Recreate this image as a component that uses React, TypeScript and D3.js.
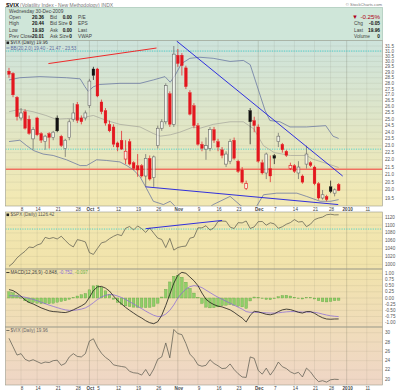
import React from "react";
import * as d3 from "d3";

// ---------- DATA ----------
const tradingDays = [
  "2009-09-02","2009-09-03","2009-09-04","2009-09-08","2009-09-09","2009-09-10","2009-09-11","2009-09-14","2009-09-15","2009-09-16",
  "2009-09-17","2009-09-18","2009-09-21","2009-09-22","2009-09-23","2009-09-24","2009-09-25","2009-09-28","2009-09-29","2009-09-30",
  "2009-10-01","2009-10-02","2009-10-05","2009-10-06","2009-10-07","2009-10-08","2009-10-09","2009-10-12","2009-10-13","2009-10-14",
  "2009-10-15","2009-10-16","2009-10-19","2009-10-20","2009-10-21","2009-10-22","2009-10-23","2009-10-26","2009-10-27","2009-10-28",
  "2009-10-29","2009-10-30","2009-11-02","2009-11-03","2009-11-04","2009-11-05","2009-11-06","2009-11-09","2009-11-10","2009-11-11",
  "2009-11-12","2009-11-13","2009-11-16","2009-11-17","2009-11-18","2009-11-19","2009-11-20","2009-11-23","2009-11-24","2009-11-25",
  "2009-11-27","2009-11-30","2009-12-01","2009-12-02","2009-12-03","2009-12-04","2009-12-07","2009-12-08","2009-12-09","2009-12-10",
  "2009-12-11","2009-12-14","2009-12-15","2009-12-16","2009-12-17","2009-12-18","2009-12-21","2009-12-22","2009-12-23","2009-12-24",
  "2009-12-28","2009-12-29","2009-12-30",
];
const futureDays = [
  "2009-12-31","2010-01-04","2010-01-05","2010-01-06","2010-01-07","2010-01-08","2010-01-11","2010-01-12","2010-01-13","2010-01-14","2010-01-15",
];

const vixOpen = [
  29.1,28.9,26.8,25.1,25.6,25.0,23.5,25.1,23.9,23.3,
  23.9,23.6,25.1,23.7,22.8,23.6,25.0,26.2,25.1,25.1,
  26.1,29.3,29.3,26.4,25.7,24.6,24.4,23.2,23.4,22.05,
  23.3,21.8,21.6,21.6,20.9,22.1,20.8,23.0,24.3,24.8,
  27.1,24.6,30.6,30.6,29.4,27.2,26.1,24.5,23.1,22.75,
  22.8,24.2,23.3,22.7,21.7,21.9,23.4,21.9,21.3,20.1,
  25.7,24.9,24.4,21.8,21.1,21.4,22.3,23.3,23.1,22.6,
  21.4,21.6,21.1,20.9,21.7,21.8,21.5,20.4,19.5,19.6,
  20.2,19.8,20.36,
];
const vixHigh = [
  29.4,29.0,26.9,25.9,25.8,25.3,24.4,25.2,24.0,23.8,
  24.0,24.1,25.3,23.8,23.5,25.0,26.3,26.4,25.3,25.7,
  28.4,29.5,29.4,26.6,25.9,24.9,24.6,23.3,24.1,23.4,
  23.5,21.9,22.4,21.7,22.4,22.3,22.3,24.5,25.0,28.0,
  27.3,31.5,31.2,30.8,29.6,27.4,26.3,24.7,23.3,23.6,
  24.4,24.4,23.5,22.9,22.6,23.5,23.6,22.0,21.5,20.6,
  25.9,25.2,24.6,22.0,22.5,22.3,22.4,23.95,23.2,22.7,
  21.8,21.7,21.9,21.0,23.0,21.9,21.6,20.5,20.0,19.7,
  20.6,20.1,20.44,
];
const vixLow = [
  28.5,26.8,24.9,24.9,24.2,23.8,22.7,23.7,23.2,22.7,
  22.8,23.4,24.0,22.9,22.2,23.4,24.8,24.7,24.6,24.9,
  25.9,28.3,26.8,25.4,24.5,24.0,22.9,22.6,22.7,21.7,
  21.6,21.3,20.85,20.8,20.2,20.6,20.2,22.8,24.1,24.6,
  24.4,24.4,29.5,28.7,27.5,25.3,24.3,23.0,22.6,22.0,
  22.6,23.2,22.6,22.1,21.5,21.7,22.0,21.1,20.4,20.0,
  23.1,24.0,21.8,21.0,20.7,20.5,21.7,22.9,22.5,22.2,
  21.3,21.1,20.7,20.4,21.4,21.5,20.3,19.4,19.4,19.3,
  19.8,19.6,19.93,
];
const vixClose = [
  28.8,27.0,25.2,25.5,24.3,23.9,24.2,23.8,23.4,23.7,
  23.6,24.0,24.1,23.0,23.4,24.8,25.5,24.9,24.8,25.5,
  28.2,28.7,26.9,25.6,24.7,24.1,23.1,22.9,22.75,22.6,
  21.7,21.4,21.3,20.9,22.1,20.7,22.2,24.3,24.8,27.8,
  24.6,30.7,29.8,29.6,27.7,25.4,24.5,23.1,22.8,23.0,
  24.2,23.4,22.9,22.3,22.4,23.3,22.1,21.2,20.5,20.4,
  24.8,24.5,21.9,21.1,22.4,20.9,22.1,23.7,22.7,22.3,
  21.6,21.2,21.5,20.5,22.4,21.6,20.4,19.5,19.7,19.4,
  19.9,20.01,19.96,
];
const priorClose = 29.15;

const bbUpper: [number, number][] = [
  [0,28.3],[2.7,28.5],[7.7,28.6],[14.3,28.5],[17.7,28.4],[18.9,27.7],[19.7,27.3],[21,27.7],[22.6,27.9],
  [27.6,28.0],[32.6,28.0],[35.9,28.3],[38.8,28.6],[40.1,28.1],[41.3,28.7],[42.9,29.8],[45,30.3],[47.5,30.4],
  [50.8,30.3],[55,30.0],[58.3,30.1],[60,29.7],[63.7,25.7],[64.9,24.9],[67.4,24.8],[69.9,24.4],[74,24.4],
  [78.8,24.5],[80.6,23.7],[82,23.53],
];
const bbMiddle: [number, number][] = [
  [0,25.6],[2.7,25.8],[6,25.6],[9.2,25.3],[11.7,25.0],[14.3,25.05],[17.7,25.1],[21,25.3],[24.3,24.9],
  [27.6,24.6],[32.6,24.4],[35.9,23.9],[37.6,23.7],[40.1,23.8],[42.5,24.0],[45.9,24.4],[47.5,24.3],
  [50.8,24.6],[55,24.8],[58.3,24.8],[60.9,24.25],[63.3,23.0],[66,22.5],[70,22.3],[74,22.3],[75.5,22.05],
  [79.5,21.7],[82,21.47],
];
const bbLower: [number, number][] = [
  [0,23.3],[2.7,23.4],[4.4,23.0],[6.1,22.65],[8.5,22.4],[11,22.3],[14.3,22.0],[17.7,21.6],[19.3,21.6],
  [21.8,22.0],[24.3,21.95],[27.6,21.85],[29.3,21.6],[31,21.3],[32.6,20.85],[34.2,20.1],[35.9,19.3],
  [38.4,19.1],[40.1,19.3],[41.7,18.9],[44,18.5],[48,18.6],[50.8,19.1],[55,19.6],[57.5,19.07],[60,18.6],
  [61.6,19.0],[63.3,19.7],[66.6,19.8],[71.6,19.8],[74,19.6],[77.4,19.3],[80,19.3],[82,19.4],
];

const redTrend: [number, number][] = [[9.8, 29.8], [36.7, 31.3]];
const blueTrendHigh: [number, number][] = [[41.7, 32.0], [83, 20.9]];
const blueTrendLow: [number, number][] = [[34, 20.2], [81.9, 19.1]];
const vixRedLevel = 21.35;
const vixCyanLevels = [31.0, 22.75];

const spxClose = [
  994.75,1003.24,1016.40,1025.39,1033.37,1044.14,1042.73,1049.34,1052.63,1068.76,
  1065.49,1068.30,1064.66,1071.66,1060.87,1050.78,1044.38,1062.98,1060.61,1057.08,
  1029.85,1025.21,1040.46,1054.72,1057.58,1065.48,1071.49,1076.19,1073.19,1092.02,
  1096.56,1087.68,1097.91,1091.06,1081.40,1092.91,1079.60,1066.95,1063.41,1042.63,
  1066.11,1036.19,1042.88,1045.41,1046.50,1066.63,1069.30,1093.08,1093.01,1098.51,
  1087.24,1093.48,1109.30,1110.32,1109.80,1094.90,1091.38,1106.24,1105.65,1110.63,
  1091.49,1095.63,1108.86,1109.24,1099.92,1105.98,1103.25,1091.94,1095.95,1102.35,
  1106.41,1114.11,1107.93,1109.18,1096.08,1102.47,1114.05,1118.02,1120.59,1126.48,
  1127.78,1126.19,1126.42,
];
const spxTrend: [number, number][] = [[34, 1091], [53, 1112]];
const spxCyanLevel = 1090;

const macdLine = [
  0.34,0.30,0.20,0.07,-0.08,-0.18,-0.24,-0.32,-0.40,-0.46,
  -0.52,-0.55,-0.56,-0.58,-0.59,-0.55,-0.48,-0.40,-0.32,-0.22,
  0.02,0.30,0.45,0.47,0.40,0.28,0.08,-0.10,-0.24,-0.38,
  -0.50,-0.61,-0.72,-0.81,-0.92,-1.00,-1.04,-0.96,-0.70,-0.30,
  0.15,0.60,0.92,1.04,1.00,0.85,0.70,0.50,0.20,-0.05,
  -0.18,-0.27,-0.33,-0.36,-0.42,-0.48,-0.58,-0.70,-0.81,-0.97,
  -0.70,-0.54,-0.56,-0.61,-0.66,-0.68,-0.64,-0.55,-0.48,-0.45,
  -0.47,-0.52,-0.58,-0.61,-0.55,-0.55,-0.62,-0.72,-0.80,-0.85,
  -0.86,-0.85,-0.848,
];
const macdSignal = [
  0.09,0.09,0.08,0.06,0.03,-0.01,-0.06,-0.11,-0.17,-0.23,
  -0.29,-0.34,-0.39,-0.44,-0.48,-0.50,-0.50,-0.48,-0.45,-0.40,
  -0.31,-0.19,-0.06,0.04,0.11,0.14,0.13,0.08,0.02,-0.06,
  -0.15,-0.24,-0.34,-0.43,-0.53,-0.62,-0.70,-0.75,-0.74,-0.65,
  -0.50,-0.28,0.00,0.20,0.36,0.46,0.50,0.48,0.42,0.32,
  0.22,0.12,0.03,-0.05,-0.13,-0.21,-0.29,-0.37,-0.45,-0.55,
  -0.58,-0.58,-0.58,-0.59,-0.60,-0.61,-0.61,-0.60,-0.58,-0.56,
  -0.55,-0.55,-0.56,-0.57,-0.57,-0.57,-0.58,-0.61,-0.65,-0.69,
  -0.72,-0.74,-0.752,
];

const tickDates = [
  "2009-09-08","2009-09-14","2009-09-21","2009-09-28","2009-10-01","2009-10-05","2009-10-12","2009-10-19","2009-10-26",
  "2009-11-02","2009-11-09","2009-11-16","2009-11-23","2009-12-01","2009-12-07","2009-12-14","2009-12-21","2009-12-28",
  "2010-01-04","2010-01-11",
];
const tickLabels = ["8","14","21","28","Oct","5","12","19","26","Nov","9","16","23","Dec","7","14","21","28","2010","11"];
const monthLabels = ["Oct","Nov","Dec","2010"];

const mainTicks = [31.5,31,30.5,30,29.5,29,28.5,28,27.5,27,26.5,26,25.5,25,24.5,24,23.5,23,22.5,22,21.5,21,20.5,20,19.5];
const spxTicks = [1120,1100,1080,1060,1040,1020,1000];
const macdTicks = [1,0.75,0.5,0.25,0,-0.25,-0.5,-0.75,-1];
const lowTicks = [30,28,26,24,22,20];

// ---------- CHART ----------
const FONT = "Liberation Sans, Arial, sans-serif";

export default function App() {
  const W = 400, H = 392;
  const PL = 5.5, PR = 382.5;
  const main = { top: 40.5, bottom: 206 };
  const spx = { top: 212, bottom: 269 };
  const mac = { top: 269, bottom: 327 };
  const low = { top: 327, bottom: 385 };

  const axisDays = [...tradingDays, ...futureDays];
  const x = d3.scaleLinear().domain([-0.87, 92.91]).range([PL, PR]);
  const yMain = d3.scaleLog().domain([19.5, 31.5]).range([198, 46]);
  const ySpx = d3.scaleLinear().domain([1000, 1120]).range([264.3, 217.3]);
  const yMacd = d3.scaleLinear().domain([-1, 1]).range([322.7, 273.3]);
  const yLow = d3.scaleLinear().domain([20, 30]).range([379.3, 332.7]);

  const pairLine = (ys: any) => d3.line<[number, number]>().x((d) => x(d[0])).y((d) => ys(d[1]));
  const seriesLine = (ys: any) => d3.line<number>().x((_, i) => x(i)).y((d) => ys(d));

  const ticks = tickDates.map((d, k) => ({ i: axisDays.indexOf(d), label: tickLabels[k] }));
  const isMonth = (l: string) => monthLabels.includes(l);

  const gridV = (p: { top: number; bottom: number }) =>
    ticks.map((t, k) => (
      <line key={"v" + k} x1={x(t.i)} x2={x(t.i)} y1={p.top} y2={p.bottom}
        stroke={isMonth(t.label) ? "rgba(90,90,70,0.35)" : "rgba(110,110,90,0.18)"} strokeWidth={0.6} />
    ));
  const gridH = (vals: number[], ys: any) =>
    vals.map((v, k) => (
      <line key={"h" + k} x1={PL} x2={PR} y1={ys(v)} y2={ys(v)} stroke="rgba(110,110,90,0.16)" strokeWidth={0.6} />
    ));
  const yLabels = (vals: number[], ys: any, fmt: (v: number) => string) =>
    vals.map((v, k) => (
      <text key={"l" + k} x={385} y={ys(v)} dominantBaseline="central" fontSize={4.6} fill="#555" fontFamily={FONT}>
        {fmt(v)}
      </text>
    ));
  const dateLabels = (yy: number) =>
    ticks.map((t, k) => (
      <text key={"d" + k} x={x(t.i) + 1} y={yy} textAnchor="middle" dominantBaseline="central" fontSize={4.6}
        fontWeight={isMonth(t.label) ? "bold" : "normal"} fill="#444" fontFamily={FONT}>
        {t.label}
      </text>
    ));

  const candles = vixClose.map((c, i) => {
    const o = vixOpen[i], h = vixHigh[i], l = vixLow[i];
    const prev = i === 0 ? priorClose : vixClose[i - 1];
    const up = c >= prev;
    const filled = c < o;
    const col = up ? (filled ? "#111" : "#666") : "#e3161e";
    const cx = x(i);
    const yt = yMain(Math.max(o, c)), yb = yMain(Math.min(o, c));
    const bw = 2.8;
    return (
      <g key={"c" + i}>
        <line x1={cx} x2={cx} y1={yMain(h)} y2={yt} stroke={col} strokeWidth={0.7} />
        <line x1={cx} x2={cx} y1={yb} y2={yMain(l)} stroke={col} strokeWidth={0.7} />
        <rect x={cx - bw / 2} y={yt} width={bw} height={Math.max(0.8, yb - yt)}
          fill={filled ? col : "rgba(255,255,255,0.6)"} stroke={col} strokeWidth={filled ? 0.3 : 0.6} />
      </g>
    );
  });

  const hist = macdLine.map((m, i) => {
    const hv = m - macdSignal[i];
    const y0 = yMacd(0), y1 = yMacd(hv);
    return (
      <rect key={"b" + i} x={x(i) - 1.3} width={2.6} y={Math.min(y0, y1)} height={Math.max(0.4, Math.abs(y1 - y0))}
        fill="#8fcf68" stroke="#5f9e3c" strokeWidth={0.35} />
    );
  });

  const panelRect = (p: any, key: string) => (
    <rect key={key} x={PL} y={p.top} width={PR - PL} height={p.bottom - p.top} fill="none" stroke="#9a9a8a" strokeWidth={0.6} />
  );

  return (
    <svg width={W} height={H} viewBox={`0 0 ${W} ${H}`} style={{ position: "absolute", left: 0, top: 0, background: "#fff" }}>
      <defs>
        <linearGradient id="bg" gradientUnits="userSpaceOnUse" x1={0} y1={40} x2={0} y2={385}>
          <stop offset="0" stopColor="#cde3dc" />
          <stop offset="0.25" stopColor="#e1e6c6" />
          <stop offset="0.45" stopColor="#f2e9b4" />
          <stop offset="0.65" stopColor="#f1e3ab" />
          <stop offset="0.85" stopColor="#f0dcbb" />
          <stop offset="1" stopColor="#efd6c6" />
        </linearGradient>
        <clipPath id="cMain"><rect x={PL} y={main.top} width={PR - PL} height={main.bottom - main.top} /></clipPath>
        <clipPath id="cSpx"><rect x={PL} y={spx.top} width={PR - PL} height={spx.bottom - spx.top} /></clipPath>
        <clipPath id="cMac"><rect x={PL} y={mac.top} width={PR - PL} height={mac.bottom - mac.top} /></clipPath>
        <clipPath id="cLow"><rect x={PL} y={low.top} width={PR - PL} height={low.bottom - low.top} /></clipPath>
      </defs>

      {/* header */}
      <text x={6} y={6.5} fontSize={6} fontFamily={FONT} fill="#111" fontWeight="bold">$VIX</text>
      <text x={20} y={6.5} fontSize={5} fontFamily={FONT} fill="#777">(Volatility Index - New Methodology) INDX</text>
      <text x={382} y={5.5} fontSize={4.2} fontFamily={FONT} fill="#777" textAnchor="end">© StockCharts.com</text>
      <rect x={PL} y={7.5} width={PR - PL} height={33} fill="#cfe6d9" stroke="#9cbfae" strokeWidth={0.6} />
      <text x={9} y={12.5} fontSize={4.8} fontFamily={FONT} fill="#444">Wednesday  30-Dec-2009</text>
      {[
        ["Open", "20.36", "Bid", "0.00", "P/E"],
        ["High", "20.44", "Bid Size", "0", "EPS"],
        ["Low", "19.93", "Ask", "0.00", "Last"],
        ["Prev Close", "20.01", "Ask Size", "0", "VWAP"],
      ].map((r, k) => (
        <g key={"hr" + k} fontFamily={FONT} fontSize={4.8}>
          <text x={9} y={19 + k * 6.3} fill="#444">{r[0]}</text>
          <text x={44} y={19 + k * 6.3} fill="#111" fontWeight="bold" textAnchor="end">{r[1]}</text>
          <text x={50} y={19 + k * 6.3} fill="#444">{r[2]}</text>
          <text x={72} y={19 + k * 6.3} fill="#111" fontWeight="bold" textAnchor="end">{r[3]}</text>
          <text x={78} y={19 + k * 6.3} fill="#444">{r[4]}</text>
        </g>
      ))}
      <text x={352} y={18.5} fontSize={6} fontFamily={FONT} fill="#b00018">▼</text>
      <text x={380} y={18.5} fontSize={6.2} fontFamily={FONT} fill="#b00018" textAnchor="end">-0.25%</text>
      {[
        ["Chg", "-0.05"],
        ["Last", "19.96"],
        ["Volume", "0"],
      ].map((r, k) => (
        <g key={"hr2" + k} fontFamily={FONT} fontSize={4.8}>
          <text x={354} y={25.3 + k * 6.3} fill="#444">{r[0]}</text>
          <text x={380} y={25.3 + k * 6.3} fill="#111" fontWeight="bold" textAnchor="end">{r[1]}</text>
        </g>
      ))}

      {/* panel backgrounds */}
      {[main, spx, mac, low].map((p, k) => (
        <rect key={"bg" + k} x={PL} y={p.top} width={PR - PL} height={p.bottom - p.top} fill="url(#bg)" />
      ))}

      {/* MAIN PANEL */}
      <g clipPath="url(#cMain)">
        {gridV(main)}
        {gridH(mainTicks, yMain)}
        <line x1={PL} x2={PR} y1={yMain(vixRedLevel)} y2={yMain(vixRedLevel)} stroke="#f07060" strokeWidth={1.3} />
        {vixCyanLevels.map((v, k) => (
          <line key={"cy" + k} x1={PL} x2={PR} y1={yMain(v)} y2={yMain(v)} stroke="#2ccfcf" strokeWidth={0.8} strokeDasharray="1.2,1.2" />
        ))}
        <path d={pairLine(yMain)(bbUpper) || ""} fill="none" stroke="#5d6c9e" strokeWidth={0.7} />
        <path d={pairLine(yMain)(bbMiddle) || ""} fill="none" stroke="#a3a39a" strokeWidth={0.7} />
        <path d={pairLine(yMain)(bbLower) || ""} fill="none" stroke="#5d6c9e" strokeWidth={0.7} />
        {candles}
        <path d={pairLine(yMain)(redTrend) || ""} fill="none" stroke="#ee2b2b" strokeWidth={1} />
        <path d={pairLine(yMain)(blueTrendHigh) || ""} fill="none" stroke="#1c1ce0" strokeWidth={0.9} />
        <path d={pairLine(yMain)(blueTrendLow) || ""} fill="none" stroke="#1c1ce0" strokeWidth={0.9} />
      </g>
      <rect x={6.5} y={41.5} width={2.6} height={2.6} fill="#222" />
      <text x={10.5} y={44.2} fontSize={4.6} fontFamily={FONT} fill="#333">$VIX (Daily) 19.96</text>
      <line x1={6.3} x2={9.5} y1={48} y2={48} stroke="#5d6c9e" strokeWidth={0.8} />
      <text x={10.5} y={49.6} fontSize={4.6} fontFamily={FONT} fill="#5d6c9e">BB(20,2.0) 19.40 - 21.47 - 23.53</text>
      {yLabels(mainTicks, yMain, (v) => v.toFixed(1))}

      {/* strip between main and SPX */}
      <rect x={PL} y={main.bottom} width={PR - PL} height={spx.top - main.bottom} fill="#fff" />
      {dateLabels(209)}

      {/* SPX PANEL */}
      <g clipPath="url(#cSpx)">
        {gridV(spx)}
        {gridH(spxTicks, ySpx)}
        <line x1={PL} x2={PR} y1={ySpx(spxCyanLevel)} y2={ySpx(spxCyanLevel)} stroke="#2ccfcf" strokeWidth={0.8} strokeDasharray="1.2,1.2" />
        <path d={seriesLine(ySpx)(spxClose) || ""} fill="none" stroke="#55554a" strokeWidth={0.7} />
        <path d={pairLine(ySpx)(spxTrend) || ""} fill="none" stroke="#1c1ce0" strokeWidth={0.9} />
      </g>
      <rect x={6.5} y={213.5} width={2.6} height={2.6} fill="#222" />
      <text x={10.5} y={216.2} fontSize={4.6} fontFamily={FONT} fill="#555">$SPX (Daily) 1126.42</text>
      {yLabels(spxTicks, ySpx, (v) => String(v))}

      {/* MACD PANEL */}
      <g clipPath="url(#cMac)">
        {gridV(mac)}
        {gridH(macdTicks, yMacd)}
        {hist}
        <path d={seriesLine(yMacd)(macdSignal) || ""} fill="none" stroke="#8a6ad8" strokeWidth={0.75} />
        <path d={seriesLine(yMacd)(macdLine) || ""} fill="none" stroke="#111" strokeWidth={0.75} />
      </g>
      <line x1={6.3} x2={9.5} y1={272.5} y2={272.5} stroke="#111" strokeWidth={0.8} />
      <text x={10.5} y={274.2} fontSize={4.6} fontFamily={FONT}>
        <tspan fill="#444">MACD(12,26,9) -0.848, </tspan>
        <tspan fill="#8a6ad8">-0.752, </tspan>
        <tspan fill="#6fb04a">-0.097</tspan>
      </text>
      {yLabels(macdTicks, yMacd, (v) => v.toFixed(2))}

      {/* LOWER VIX PANEL */}
      <g clipPath="url(#cLow)">
        {gridV(low)}
        {gridH(lowTicks, yLow)}
        <path d={seriesLine(yLow)(vixClose) || ""} fill="none" stroke="#55554a" strokeWidth={0.7} />
      </g>
      <line x1={6.3} x2={9.5} y1={330.5} y2={330.5} stroke="#55554a" strokeWidth={0.8} />
      <text x={10.5} y={332.2} fontSize={4.6} fontFamily={FONT} fill="#666">$VIX (Daily) 19.96</text>
      {yLabels(lowTicks, yLow, (v) => String(v))}
      {dateLabels(388.5)}

      {[main, spx, mac, low].map((p, k) => panelRect(p, "pr" + k))}
    </svg>
  );
}
